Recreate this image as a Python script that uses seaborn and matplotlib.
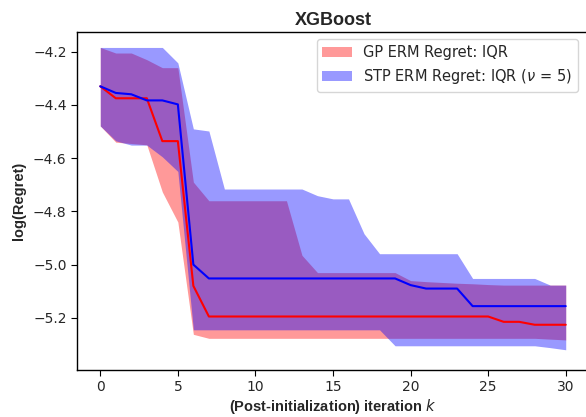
import numpy as np
import pandas as pd
import matplotlib
matplotlib.use("Agg")
import matplotlib.pyplot as plt
import seaborn as sns

# iterations after initialization
k = list(range(31))

# GP ERM regret: median and IQR (log scale)
gp_median = [-4.33, -4.375, -4.375, -4.375, -4.536, -4.536, -5.08] + [-5.195] * 19 + \
    [-5.215, -5.215, -5.226, -5.226, -5.226]
gp_lower = [-4.479, -4.54, -4.545, -4.55, -4.727, -4.84, -5.262] + [-5.277] * 22 + [-5.28, -5.283]
gp_upper = [-4.184, -4.205, -4.205, -4.23, -4.26, -4.26, -4.69] + [-4.76] * 6 + [-4.965] + \
    [-5.03] * 6 + [-5.06, -5.064, -5.067, -5.07, -5.072, -5.075] + [-5.077] * 5

# STP ERM regret (nu = 5): median and IQR
stp_median = [-4.33, -4.355, -4.36, -4.383, -4.383, -4.398, -5.0] + [-5.052] * 13 + \
    [-5.077, -5.09, -5.09, -5.09] + [-5.156] * 7
stp_lower = [-4.479, -4.535, -4.551, -4.551, -4.595, -4.65] + [-5.245] * 13 + \
    [-5.305] * 10 + [-5.312, -5.32]
stp_upper = [-4.184] * 5 + [-4.242, -4.49, -4.498] + [-4.716] * 6 + [-4.741, -4.753, -4.753, -4.884] + \
    [-4.959] * 6 + [-5.052] * 5 + [-5.077, -5.077]

df = pd.DataFrame({'k': k, 'gp': gp_median, 'stp': stp_median})

sns.set_style("ticks")
plt.rcParams['font.family'] = ['DejaVu Sans']

fig = plt.figure(figsize=(5.86, 4.17), dpi=100)
ax = fig.add_axes([77 / 586, 1 - 370 / 417, (589 - 77) / 586, (370 - 32) / 417])

ax.fill_between(k, gp_lower, gp_upper, color='red', alpha=0.4, linewidth=0,
                label='GP ERM Regret: IQR')
ax.fill_between(k, stp_lower, stp_upper, color='blue', alpha=0.4, linewidth=0,
                label=r'STP ERM Regret: IQR ($\nu$ = 5)')
sns.lineplot(data=df, x='k', y='gp', color='red', linewidth=1.5, ax=ax)
sns.lineplot(data=df, x='k', y='stp', color='blue', linewidth=1.5, ax=ax)

ax.set_xlim(-1.5, 31.5)
ax.set_ylim(-5.396, -4.126)
ax.set_xticks([0, 5, 10, 15, 20, 25, 30])
ax.set_yticks([-5.2, -5.0, -4.8, -4.6, -4.4, -4.2])
ax.tick_params(labelsize=10, direction='out', length=4, color='black')
for s in ax.spines.values():
    s.set_color('black')
    s.set_linewidth(1.0)

ax.set_title('XGBoost', fontsize=13, fontweight='bold', family='Liberation Sans', pad=5)
ax.set_xlabel(r'(Post-initialization) iteration $k$', fontsize=10.5, fontweight='bold',
              family='Liberation Sans', labelpad=2)
ax.set_ylabel('log(Regret)', fontsize=10.5, fontweight='bold', family='Liberation Sans',
              labelpad=5)

ax.legend(loc='upper right', fontsize=10.5, frameon=True, borderaxespad=0,
          bbox_to_anchor=(578 / 586, 1 - 39 / 417), bbox_transform=fig.transFigure)

fig.savefig('out.png', dpi=100)
